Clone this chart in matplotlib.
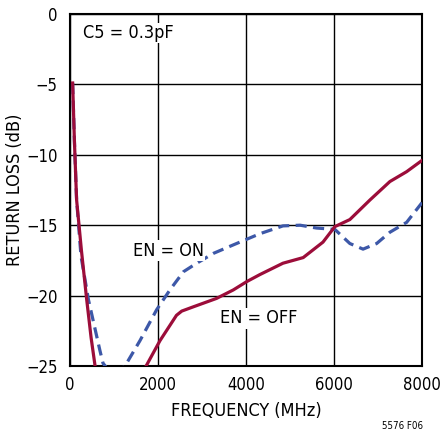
import numpy as np
import matplotlib
matplotlib.use('Agg')
import matplotlib.pyplot as plt

matplotlib.rcParams.update({'font.family': ['DejaVu Sans'], 'font.stretch': 'condensed',
                            'font.size': 13, 'axes.unicode_minus': True})

### Data ###
freq_off = [60, 100, 150, 260, 380, 480, 570, 700, 1500, 1730, 2045, 2420, 2540, 2800,
            3330, 3710, 4020, 4320, 4840, 5300, 5750, 6020, 6360, 6820, 7270, 7650, 8000]
rl_off = [-4.9, -9.0, -13.2, -16.8, -20.3, -23.0, -25.0, -27.5, -27.5, -25.0, -23.2, -21.4,
          -21.1, -20.8, -20.2, -19.6, -19.0, -18.5, -17.7, -17.3, -16.2, -15.1, -14.6,
          -13.2, -11.9, -11.2, -10.4]

freq_on = [60, 100, 150, 250, 420, 680, 750, 900, 1100, 1250, 1590, 1970, 2270, 2580,
           2880, 3260, 3710, 4320, 4840, 5230, 5600, 6020, 6360, 6660, 6970, 7270, 7650, 8000]
rl_on = [-4.9, -9.0, -13.2, -17.2, -20.3, -23.9, -24.8, -25.4, -25.4, -25.0, -23.2, -21.0,
         -19.6, -18.3, -17.7, -17.0, -16.4, -15.6, -15.05, -15.0, -15.2, -15.3, -16.3,
         -16.7, -16.3, -15.5, -14.8, -13.4]

xticks = [0, 2000, 4000, 6000, 8000]
yticks = [0, -5, -10, -15, -20, -25]

red = '#9c0d3a'
blue = '#3d58a8'

fig = plt.figure(figsize=(4.4, 4.36), dpi=100)
ax = fig.add_axes([70/440, 1 - 366/436, 352/440, 352/436])

ax.plot(freq_on, rl_on, color=blue, lw=2.3, dashes=(3.5, 2.0), zorder=3)
ax.plot(freq_off, rl_off, color=red, lw=2.3, zorder=4)

ax.set_xlim(0, 8000)
ax.set_ylim(-25, 0)
ax.set_xticks(xticks)
ax.set_yticks(yticks)
ax.grid(True, color='black', lw=1.0)
ax.tick_params(length=0, labelsize=12)
ax.tick_params(axis='x', pad=7)
ax.tick_params(axis='y', pad=9)
for s in ax.spines.values():
    s.set_linewidth(1.5)

ax.set_xlabel('FREQUENCY (MHz)', fontsize=13)
ax.set_ylabel('RETURN LOSS (dB)', fontsize=13)
ax.xaxis.set_label_coords(0.5, -0.102)
ax.yaxis.set_label_coords(-0.13, 0.5)

box = dict(facecolor='white', edgecolor='none', pad=1)
ax.text(300, -1.35, 'C5 = 0.3pF', fontsize=13, va='center', ha='left', bbox=box, zorder=5)
ax.text(1430, -16.8, 'EN = ON', fontsize=13, va='center', ha='left', bbox=box, zorder=5)
ax.text(3410, -21.6, 'EN = OFF', fontsize=13, va='center', ha='left', bbox=box, zorder=5)

fig.text(402/440, 1 - 426/436, '5576 F06', fontsize=7, ha='center', va='center')

plt.savefig('out.png', dpi=100)
